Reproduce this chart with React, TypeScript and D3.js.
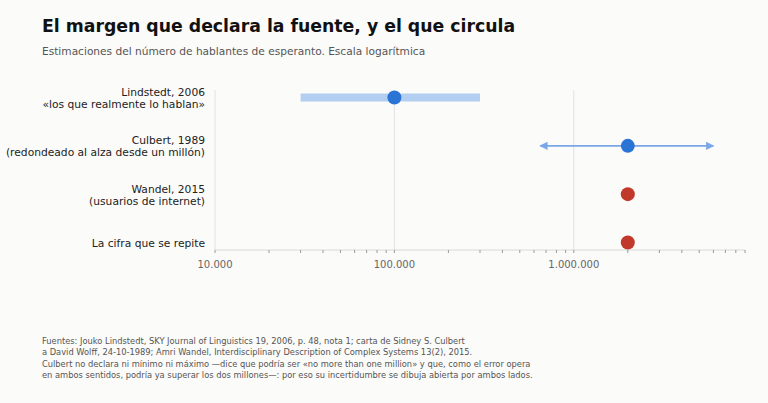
import { useEffect, useRef } from 'react'
import * as d3 from 'd3'

// filas del gráfico (de arriba a abajo)
const rowLabels = [
  ['Lindstedt, 2006', '«los que realmente lo hablan»'],
  ['Culbert, 1989', '(redondeado al alza desde un millón)'],
  ['Wandel, 2015', '(usuarios de internet)'],
  ['La cifra que se repite'],
]
const estimates = [100000, 2000000, 2000000, 2000000]
const lows = [30000, 650000, null, null]
const highs = [300000, 6000000, null, null]
const kinds = ['band', 'open', 'none', 'none']
const pointColors = ['#2a74d6', '#2a74d6', '#c0392b', '#c0392b']

const majorTicks = [10000, 100000, 1000000]
const majorLabels = ['10.000', '100.000', '1.000.000']
const minorTicks = [2, 3, 4, 5, 6, 7, 8, 9].flatMap((m) => [m * 1e4, m * 1e5, m * 1e6])

const footnote = [
  'Fuentes: Jouko Lindstedt, SKY Journal of Linguistics 19, 2006, p. 48, nota 1; carta de Sidney S. Culbert',
  'a David Wolff, 24-10-1989; Amri Wandel, Interdisciplinary Description of Complex Systems 13(2), 2015.',
  'Culbert no declara ni mínimo ni máximo —dice que podría ser «no more than one million» y que, como el error opera',
  'en ambos sentidos, podría ya superar los dos millones—: por eso su incertidumbre se dibuja abierta por ambos lados.',
]

const W = 768
const H = 403
const FONT = '"DejaVu Sans", Verdana, sans-serif'

export default function App() {
  const svgRef = useRef<SVGSVGElement>(null)

  useEffect(() => {
    document.body.style.margin = '0'
    if (!svgRef.current) return
    const svg = d3.select(svgRef.current)
    svg.selectAll('*').remove()

    const x = d3.scaleLog().domain([10000, 9000000]).range([215, 745])
    const y = d3.scalePoint<number>().domain(d3.range(rowLabels.length)).range([97.5, 242.5])
    const axisY = 250
    const top = 90

    svg.append('rect').attr('width', W).attr('height', H).attr('fill', '#fbfbf9')

    svg.append('text').attr('x', 42).attr('y', 32).attr('font-size', 17.3).attr('font-weight', 700).attr('fill', '#111').attr('font-family', FONT)
      .text('El margen que declara la fuente, y el que circula')
    svg.append('text').attr('x', 42).attr('y', 55).attr('font-size', 10.6).attr('fill', '#555').attr('font-family', FONT)
      .text('Estimaciones del número de hablantes de esperanto. Escala logarítmica')

    const defs = svg.append('defs')
    defs.append('marker').attr('id', 'arrow').attr('viewBox', '0 0 10 10').attr('refX', 9).attr('refY', 5)
      .attr('markerWidth', 4.5).attr('markerHeight', 4.5).attr('orient', 'auto-start-reverse')
      .append('path').attr('d', 'M0,0 L10,5 L0,10 Z').attr('fill', '#6c9fe6')

    // rejilla
    majorTicks.slice(1).forEach((t) => {
      svg.append('line').attr('x1', x(t)).attr('x2', x(t)).attr('y1', top).attr('y2', axisY).attr('stroke', '#e2e2e0').attr('stroke-width', 1)
    })
    svg.append('line').attr('x1', 215).attr('x2', 215).attr('y1', top).attr('y2', axisY).attr('stroke', '#e2e2e0')
    svg.append('line').attr('x1', 215).attr('x2', 745).attr('y1', axisY).attr('y2', axisY).attr('stroke', '#d8d8d6')

    minorTicks.concat(majorTicks).forEach((t) => {
      if (t > 9000000) return
      svg.append('line').attr('x1', x(t)).attr('x2', x(t)).attr('y1', axisY).attr('y2', axisY + 3).attr('stroke', '#9a9a9a').attr('stroke-width', 1)
    })
    majorTicks.forEach((t, i) => {
      svg.append('text').attr('x', x(t)).attr('y', 268).attr('text-anchor', 'middle').attr('font-size', 10).attr('fill', '#666').attr('font-family', FONT).text(majorLabels[i])
    })

    rowLabels.forEach((lines, i) => {
      const cy = y(i) as number
      const t = svg.append('text').attr('text-anchor', 'end').attr('font-size', 10.7).attr('fill', '#222').attr('font-family', FONT)
      const y0 = cy - ((lines.length - 1) * 12) / 2 + 4.5
      lines.forEach((l, j) => t.append('tspan').attr('x', 205).attr('y', y0 + j * 12).text(l))

      const lo = lows[i]
      const hi = highs[i]
      if (kinds[i] === 'band' && lo && hi) {
        svg.append('rect').attr('x', x(lo)).attr('y', cy - 4).attr('width', x(hi) - x(lo)).attr('height', 8).attr('fill', '#b3cef0')
      }
      if (kinds[i] === 'open' && lo && hi) {
        svg.append('line').attr('x1', x(lo)).attr('x2', x(hi)).attr('y1', cy).attr('y2', cy)
          .attr('stroke', '#6c9fe6').attr('stroke-width', 1.8).attr('opacity', 0.9)
          .attr('marker-start', 'url(#arrow)').attr('marker-end', 'url(#arrow)')
      }
      svg.append('circle').attr('cx', x(estimates[i])).attr('cy', cy).attr('r', 7).attr('fill', pointColors[i])
    })

    const fn = svg.append('text').attr('font-size', 8.3).attr('fill', '#555').attr('font-family', FONT)
    footnote.forEach((l, j) => fn.append('tspan').attr('x', 42).attr('y', 344 + j * 11.4).text(l))
  }, [])

  return <svg ref={svgRef} width={W} height={H} style={{ display: 'block' }} />
}
